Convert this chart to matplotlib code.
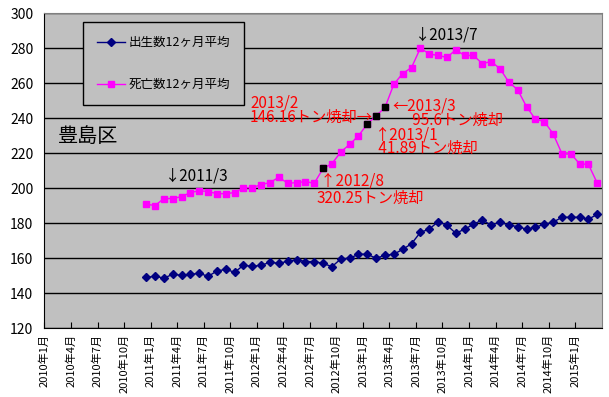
import numpy as np
import matplotlib
matplotlib.use('Agg')
import matplotlib.pyplot as plt

plt.rcParams['font.family'] = ['Noto Sans CJK JP', 'DejaVu Sans']

# months counted from 2010年1月 (index 0); data starts 2010年12月
start_index = 11
births = [149.1, 149.7, 148.7, 150.8, 150.3, 150.8, 151.4, 149.7, 152.7, 153.7,
          152.0, 156.0, 155.4, 156.0, 157.7, 157.1, 158.3, 159.2,
          158.1, 158.1, 157.1, 155.2, 159.6, 160.0, 162.3, 162.3, 160.0, 161.7,
          162.3, 165.1, 168.3, 174.8, 176.6, 180.9, 178.9, 174.3,
          176.6, 179.4, 181.9, 178.9, 180.7, 178.9, 178.1, 176.6, 177.7, 179.4,
          180.6, 183.4, 183.4, 183.4, 182.3, 185.1]
deaths = [190.9, 190.1, 194.1, 194.1, 195.2, 197.5, 198.6, 198.1, 196.9, 196.9,
          197.5, 200.3, 200.3, 202.1, 203.2, 206.3, 202.8, 203.2, 203.8, 202.8,
          211.3, 214.0, 220.7, 225.0, 229.9, 236.7, 241.3, 246.1, 259.4, 265.5,
          268.9, 280.0, 276.7, 275.8, 274.7, 279.0,
          275.8, 275.8, 271.2, 272.3, 268.3, 260.6, 256.2, 246.6, 239.4, 238.1,
          231.2, 219.8, 219.8, 213.9, 213.6, 202.9]
# months of incineration (2012/8, 2013/1, 2013/2, 2013/3)
burn_months = [31, 36, 37, 38]

n_months = 63
tick_labels = []
for k in range(0, n_months, 3):
    tick_labels.append(f'{2010 + k // 12}年{k % 12 + 1}月')

x = np.arange(start_index, start_index + len(births))

fig = plt.figure(figsize=(6.09, 3.97), dpi=100)
ax = fig.add_axes([0.073, 0.173, 0.915, 0.794])
ax.set_facecolor('#C0C0C0')

ax.plot(x, births, color='#000080', marker='D', markersize=4.5, linewidth=1,
        label='出生数12ヶ月平均')
ax.plot(x, deaths, color='#FF00FF', marker='s', markersize=4.5, linewidth=1,
        label='死亡数12ヶ月平均')
bx = [m for m in burn_months]
by = [deaths[m - start_index] for m in burn_months]
ax.plot(bx, by, linestyle='none', marker='s', markersize=4.5, color='black')

ax.set_xlim(-0.5, n_months - 0.5)
ax.set_ylim(120, 300)
ax.set_yticks(range(120, 301, 20))
ax.yaxis.grid(True, color='black', linewidth=1)
ax.set_axisbelow(True)
ax.set_xticks(np.arange(0, n_months, 3) - 0.5)
ax.set_xticklabels(tick_labels, rotation=90, fontsize=8)
ax.tick_params(axis='x', direction='in', length=4, pad=4)
ax.tick_params(axis='y', length=0, labelsize=10, pad=8)
for s in ax.spines.values():
    s.set_color('black')
ax.spines['right'].set_color('#808080')
ax.spines['top'].set_color('#808080')

leg = ax.legend(loc='upper left', bbox_to_anchor=(0.069, 0.972), borderaxespad=0,
                fontsize=9, labelspacing=2.3, borderpad=1.15, handlelength=2.2,
                handletextpad=0.3, fancybox=False, framealpha=1,
                facecolor='#C0C0C0', edgecolor='black')

red = '#FF0000'
ax.text(1.0, 229.6, '豊島区', fontsize=14.5, va='center')
ax.text(13.1, 207, '↓2011/3', fontsize=11, va='center')
ax.text(41.4, 287.6, '↓2013/7', fontsize=11, va='center')
# two-line notes, kept tight like the original
ax.text(22.75, 244.5, '2013/2\n146.16トン焼却→', fontsize=11, va='center',
        color=red, linespacing=0.82)
ax.text(38.8, 243.0, '←2013/3\n      95.6トン焼却', fontsize=11, va='center',
        color=red, linespacing=0.82)
ax.text(36.9, 226.6, '↑2013/1\n 41.89トン焼却', fontsize=11, va='center',
        color=red, linespacing=0.78)
ax.text(30.3, 199.3, ' ↑2012/8\n320.25トン焼却', fontsize=11, va='center',
        color=red, linespacing=1.0)

fig.savefig('out.png', dpi=100)
